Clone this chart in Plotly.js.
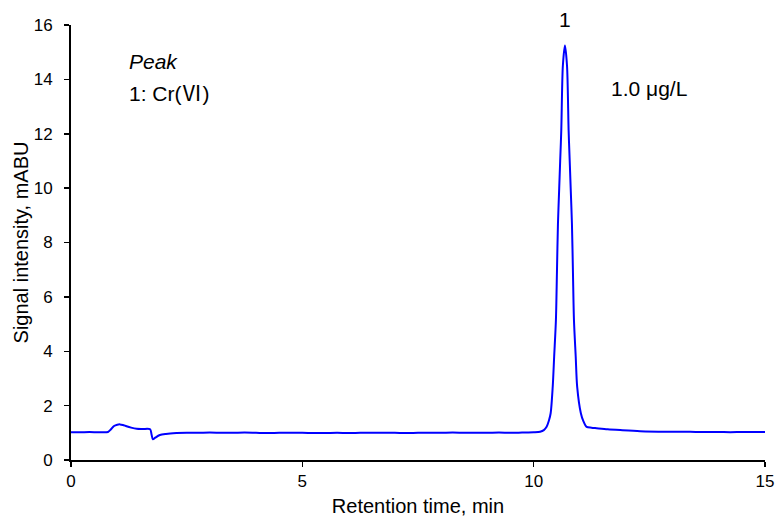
<!DOCTYPE html>
<html>
<head>
<meta charset="utf-8">
<script src="https://cdn.plot.ly/plotly-3.0.1.min.js"></script>
<style>html,body{margin:0;padding:0;background:#fff;}#chart{width:775px;height:517px;}</style>
</head>
<body>
<div id="chart"></div>
<script>
// Retention time (min) and signal intensity (mABU)
var timeMin = [0, 0.2, 0.4, 0.6, 0.8, 0.86, 0.93, 1.0, 1.06, 1.12, 1.2, 1.3, 1.42, 1.55, 1.71, 1.74, 1.77, 1.82, 1.92, 2.05, 2.28, 2.5, 2.75, 3.0, 3.25, 3.5, 3.75, 4.0, 4.25, 4.5, 4.75, 5.0, 5.25, 5.5, 5.75, 6.0, 6.25, 6.5, 6.75, 7.0, 7.25, 7.5, 7.75, 8.0, 8.25, 8.5, 8.75, 9.0, 9.25, 9.5, 9.75, 10.0, 10.14, 10.22, 10.28, 10.33, 10.367, 10.412, 10.443, 10.481, 10.503, 10.525, 10.552, 10.573, 10.597, 10.631, 10.676, 10.721, 10.755, 10.779, 10.8, 10.827, 10.849, 10.871, 10.909, 10.94, 11.02, 11.07, 11.145, 11.25, 11.36, 11.6, 11.87, 12.3, 12.87, 13.25, 13.5, 13.75, 14.0, 14.25, 14.5, 14.75, 15.0];
var signal  = [1.02, 1.02, 1.03, 1.02, 1.03, 1.12, 1.25, 1.3, 1.31, 1.29, 1.24, 1.19, 1.15, 1.14, 1.13, 0.95, 0.76, 0.82, 0.92, 0.96, 0.99, 1.0, 1.0, 1.01, 1.0, 1.0, 1.01, 1.0, 0.99, 1.0, 1.0, 1.0, 0.99, 0.99, 1.0, 0.99, 1.0, 1.0, 1.0, 1.0, 0.99, 1.0, 1.0, 1.0, 1.01, 1.0, 1.0, 1.0, 1.01, 1.0, 1.01, 1.02, 1.04, 1.1, 1.22, 1.45, 1.72, 2.7, 3.8, 5.15, 6.9, 8.7, 10.0, 11.0, 12.14, 14.5, 15.25, 14.5, 12.14, 11.0, 10.0, 8.7, 6.9, 5.15, 3.8, 2.7, 1.72, 1.45, 1.22, 1.19, 1.17, 1.13, 1.1, 1.06, 1.04, 1.04, 1.03, 1.03, 1.03, 1.02, 1.03, 1.03, 1.03];

var xTicks = [0, 5, 10, 15];
var yTicks = [0, 2, 4, 6, 8, 10, 12, 14, 16];

var FONT = 'Liberation Sans, Arial, sans-serif';
var CJK = 'Noto Sans CJK JP';

var trace = {
  x: timeMin, y: signal, type: 'scatter', mode: 'lines',
  line: {color: '#0000FF', width: 2, shape: 'spline', smoothing: 0.8},
  hoverinfo: 'skip'
};

var layout = {
  width: 775, height: 517,
  margin: {l: 71, r: 10, t: 25, b: 57},
  paper_bgcolor: '#fff', plot_bgcolor: '#fff',
  showlegend: false,
  font: {family: FONT, color: '#000'},
  xaxis: {
    range: [0, 15], tickvals: xTicks, ticktext: xTicks.map(String),
    showgrid: false, zeroline: false, showline: true, linecolor: '#000', linewidth: 2,
    ticks: 'outside', ticklen: 5, tickwidth: 1.5, tickcolor: '#000',
    tickfont: {family: FONT, size: 17, color: '#000'},
    title: {text: 'Retention time, min', font: {family: FONT, size: 20, color: '#000'}, standoff: 14}
  },
  yaxis: {
    range: [0, 16], tickvals: yTicks, ticktext: yTicks.map(String),
    showgrid: false, zeroline: false, showline: true, linecolor: '#000', linewidth: 2,
    ticks: 'outside', ticklen: 5, tickwidth: 1.5, tickcolor: '#000',
    ticklabelstandoff: 8,
    tickfont: {family: FONT, size: 17, color: '#000'},
    title: {text: 'Signal intensity, mABU', font: {family: FONT, size: 20, color: '#000'}, standoff: 0}
  },
  annotations: [
    {xref: 'x', yref: 'paper', x: 10.676, y: 1.0115, text: '1', showarrow: false, xanchor: 'center', yanchor: 'middle', font: {family: FONT, size: 21, color: '#000'}},
    {xref: 'paper', yref: 'paper', x: 0.08, y: 0.917, text: '<i>Peak</i>', showarrow: false, xanchor: 'left', yanchor: 'middle', font: {family: FONT, size: 21, color: '#000'}},
    {xref: 'paper', yref: 'paper', x: 0.08, y: 0.847, text: '1: Cr(<span style="font-family:' + CJK + '">Ⅵ</span>)', showarrow: false, xanchor: 'left', yanchor: 'middle', font: {family: FONT, size: 21, color: '#000'}},
    {xref: 'paper', yref: 'paper', x: 0.775, y: 0.854, text: '1.0 μg/L', showarrow: false, xanchor: 'left', yanchor: 'middle', font: {family: FONT, size: 21, color: '#000'}}
  ]
};

Plotly.newPlot('chart', [trace], layout, {displayModeBar: false, staticPlot: true});
</script>
</body>
</html>
